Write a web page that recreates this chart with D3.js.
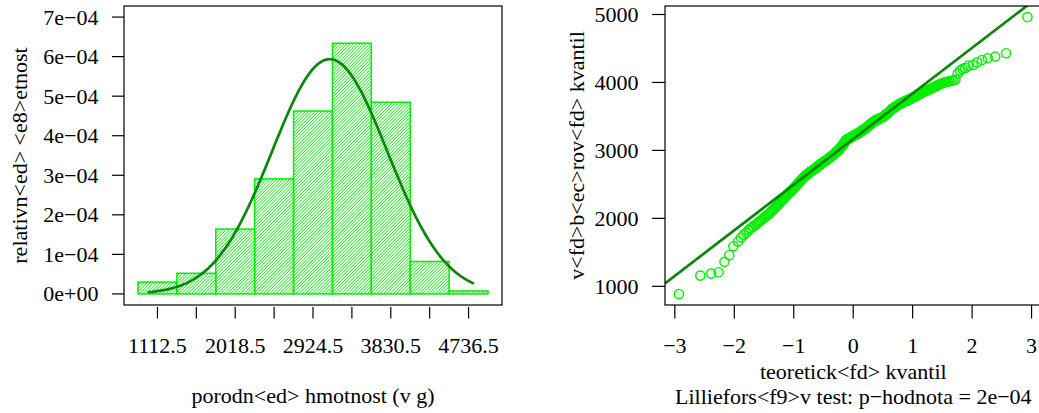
<!DOCTYPE html>
<html>
<head>
<meta charset="utf-8">
<script src="https://cdn.jsdelivr.net/npm/d3@7"></script>
<style>
  body { margin: 0; background: #fff; }
  text { font-family: "Liberation Serif", "DejaVu Serif", serif; font-size: 22px; fill: #000; }
</style>
</head>
<body>
<svg id="chart" width="1039" height="413"></svg>
<script>
// birth weights (g), sorted
const weights = [
  888, 1158, 1187, 1207,
  1360, 1458, 1590, 1660, 1719, 1758, 1790,
  1830, 1855, 1876, 1900, 1922, 1945, 1965, 1985, 2005, 2023, 2040,
  2057, 2073, 2092, 2111, 2130, 2150, 2167, 2185, 2202, 2220, 2236,
  2252, 2266, 2283, 2299, 2316, 2332, 2348, 2364, 2376, 2388,
  2400, 2412, 2423, 2435, 2448, 2462, 2475, 2489, 2502, 2515,
  2528, 2540, 2552, 2563, 2574, 2585, 2596, 2607, 2618, 2628,
  2636, 2645, 2653, 2661, 2669, 2676, 2683, 2689, 2694,
  2702, 2709, 2716, 2723, 2730, 2737, 2744, 2751, 2758, 2765,
  2772, 2779, 2786, 2792, 2798, 2804, 2810, 2816, 2822, 2828,
  2834, 2840, 2846, 2852, 2858, 2864, 2870, 2876, 2882, 2888,
  2894, 2900, 2906, 2912, 2918, 2924, 2931, 2938, 2945, 2952,
  2959, 2966, 2973, 2980, 2987, 2994, 3001, 3008, 3015, 3022,
  3032, 3042, 3052, 3062, 3072, 3082, 3092, 3102, 3112, 3122, 3134, 3146,
  3155, 3159, 3163, 3167, 3171, 3175, 3179, 3183, 3188, 3193, 3198, 3203, 3207, 3211,
  3215, 3219, 3223, 3227, 3231, 3235, 3239, 3243, 3247, 3251, 3255, 3260,
  3265, 3270, 3275, 3280, 3285, 3290, 3295, 3300, 3305, 3310, 3315, 3320,
  3326, 3332, 3338, 3344, 3350, 3357, 3364, 3371, 3378, 3385, 3391,
  3397, 3403, 3409, 3415, 3420, 3425, 3430, 3435, 3440, 3445, 3450,
  3453, 3456, 3460, 3464, 3468, 3472, 3476, 3480, 3484, 3487, 3490,
  3497, 3504, 3511, 3518, 3525, 3532, 3539, 3546, 3553, 3560,
  3568, 3577, 3586, 3596,
  3606, 3612, 3618, 3624, 3629,
  3636, 3643, 3650, 3657, 3664, 3671, 3678, 3684, 3689,
  3694, 3699, 3704, 3709, 3714, 3719, 3724, 3728, 3732,
  3737, 3742, 3748, 3754, 3760, 3765, 3770,
  3777, 3784, 3791, 3798, 3805, 3812, 3819,
  3827, 3835, 3843, 3851, 3859, 3867,
  3873, 3879, 3885, 3891, 3898,
  3907, 3916, 3925, 3934, 3943,
  3953, 3963, 3973, 3983,
  3992, 3999, 4006, 4012,
  4018, 4025, 4033, 4042,
  4130, 4174, 4199, 4213, 4247, 4257, 4297, 4331, 4356, 4380, 4430,
  4962
]

// histogram breaks and axis ticks
const breaks = [886, 1339, 1792, 2245, 2698, 3151, 3604, 4057, 4510, 4963]
const densTicks = [0, 1e-4, 2e-4, 3e-4, 4e-4, 5e-4, 6e-4, 7e-4]
const densTickLabels = ["0e+00", "1e\u221204", "2e\u221204", "3e\u221204", "4e\u221204", "5e\u221204", "6e\u221204", "7e\u221204"]
const curveRange = [1000, 4800]
const qqXTicks = [-3, -2, -1, 0, 1, 2, 3]
const qqYTicks = [1000, 2000, 3000, 4000, 5000]

const svg = d3.select("#chart")
const fmtMinus = s => String(s).replace("-", "\u2212")

// inverse normal cdf (Acklam)
function qnorm(p) {
    const a = [-3.969683028665376e+01, 2.209460984245205e+02, -2.759285104469687e+02, 1.383577518672690e+02, -3.066479806614716e+01, 2.506628277459239e+00]
    const b = [-5.447609879822406e+01, 1.615962687099119e+02, -1.556989798598866e+02, 6.680131188771972e+01, -1.328068155288572e+01]
    const c = [-7.784894002430293e-03, -3.223964580411365e-01, -2.400758277161838e+00, -2.549732539343734e+00, 4.374664141464968e+00, 2.938163982698783e+00]
    const d = [7.784695709041462e-03, 3.224671290700398e-01, 2.445134137142996e+00, 3.754408661907416e+00]
    const pl = 0.02425
    let q, r
    if (p < pl) {
        q = Math.sqrt(-2 * Math.log(p))
        return (((((c[0]*q+c[1])*q+c[2])*q+c[3])*q+c[4])*q+c[5]) / ((((d[0]*q+d[1])*q+d[2])*q+d[3])*q+1)
    }
    if (p > 1 - pl) {
        q = Math.sqrt(-2 * Math.log(1 - p))
        return -(((((c[0]*q+c[1])*q+c[2])*q+c[3])*q+c[4])*q+c[5]) / ((((d[0]*q+d[1])*q+d[2])*q+d[3])*q+1)
    }
    q = p - 0.5; r = q * q
    return (((((a[0]*r+a[1])*r+a[2])*r+a[3])*r+a[4])*r+a[5])*q / (((((b[0]*r+b[1])*r+b[2])*r+b[3])*r+b[4])*r+1)
}

// R style 4% axis extension
function ext(lo, hi) { let d = (hi - lo) * 0.04; return [lo - d, hi + d] }

const green = "#00ee00", dark = "#0a870a"
const n = weights.length

// ---------- left: histogram ----------
let hx = d3.scaleLinear().domain(ext(breaks[0], breaks[breaks.length - 1])).range([124, 502])
let hy = d3.scaleLinear().domain(ext(0, 7e-4)).range([305, 6])

let bins = d3.bin().domain([breaks[0], breaks[breaks.length - 1]]).thresholds(breaks.slice(1, -1))(weights)
let binW = breaks[1] - breaks[0]

let defs = svg.append("defs")
defs.append("pattern").attr("id", "hatch")
    .attr("patternUnits", "userSpaceOnUse").attr("width", 2.3).attr("height", 2.3)
    .attr("patternTransform", "rotate(45)")
    .append("line").attr("x1", 0).attr("y1", 0).attr("x2", 0).attr("y2", 2.3)
    .attr("stroke", green).attr("stroke-width", 1.4)

svg.append("g").selectAll("rect").data(bins).enter().append("rect")
    .attr("x", d => hx(d.x0))
    .attr("y", d => hy(d.length / (n * binW)))
    .attr("width", d => hx(d.x1) - hx(d.x0))
    .attr("height", d => hy(0) - hy(d.length / (n * binW)))
    .attr("fill", "url(#hatch)")
    .attr("stroke", green).attr("stroke-width", 1.5)

let mu = d3.mean(weights), sd = d3.deviation(weights)
let dnorm = x => Math.exp(-0.5 * ((x - mu) / sd) ** 2) / (sd * Math.sqrt(2 * Math.PI))
let curvePts = d3.range(0, 201).map(i => curveRange[0] + (curveRange[1] - curveRange[0]) * i / 200)
svg.append("path").datum(curvePts)
    .attr("d", d3.line().x(d => hx(d)).y(d => hy(dnorm(d))))
    .attr("fill", "none").attr("stroke", dark).attr("stroke-width", 2.7)

svg.append("rect").attr("x", 124).attr("y", 6).attr("width", 378).attr("height", 299)
    .attr("fill", "none").attr("stroke", "#000").attr("stroke-width", 1.2)

// y axis
let yAx = svg.append("g")
yAx.selectAll("line").data(densTicks).enter().append("line")
    .attr("x1", 112).attr("x2", 124).attr("y1", d => hy(d)).attr("y2", d => hy(d))
    .attr("stroke", "#000").attr("stroke-width", 1.2)
yAx.selectAll("text").data(densTicks).enter().append("text")
    .attr("x", 98.5).attr("y", d => hy(d) + 7.5).attr("text-anchor", "end")
    .text((d, i) => densTickLabels[i])

// x axis: ticks at bin mids, labels every second
let mids = bins.map(d => (d.x0 + d.x1) / 2)
let xAx = svg.append("g")
xAx.selectAll("line").data(mids).enter().append("line")
    .attr("x1", d => hx(d)).attr("x2", d => hx(d)).attr("y1", 307).attr("y2", 318.5)
    .attr("stroke", "#000").attr("stroke-width", 1.2)
xAx.selectAll("text").data(mids.filter((d, i) => i % 2 == 0)).enter().append("text")
    .attr("x", d => hx(d)).attr("y", 353).attr("text-anchor", "middle")
    .text(d => d.toFixed(1))

svg.append("text").attr("transform", "translate(26.5,155.5) rotate(-90)")
    .attr("text-anchor", "middle").text("relativn<ed> <e8>etnost")
svg.append("text").attr("x", 313).attr("y", 403).attr("text-anchor", "middle")
    .text("porodn<ed> hmotnost (v g)")

// ---------- right: QQ plot ----------
let theo = weights.map((d, i) => qnorm((i + 0.5) / n))
let qx = d3.scaleLinear().domain(ext(theo[0], theo[n - 1])).range([665, 1041.4])
let qy = d3.scaleLinear().domain(ext(weights[0], weights[n - 1])).range([305, 6])

svg.append("clipPath").attr("id", "qqclip").append("rect")
    .attr("x", 665).attr("y", 6).attr("width", 376.4).attr("height", 299)

let q1 = d3.quantile(weights, 0.25), q3 = d3.quantile(weights, 0.75)
let slope = (q3 - q1) / (qnorm(0.75) - qnorm(0.25))
let icpt = q1 - slope * qnorm(0.25)
let lx = qx.domain()

svg.append("g").selectAll("circle").data(weights).enter().append("circle")
    .attr("cx", (d, i) => qx(theo[i])).attr("cy", d => qy(d)).attr("r", 4.6)
    .attr("fill", "rgba(0,238,0,0.09)").attr("stroke", green).attr("stroke-width", 1.4)

svg.append("line").attr("clip-path", "url(#qqclip)")
    .attr("x1", qx(lx[0])).attr("y1", qy(icpt + slope * lx[0]))
    .attr("x2", qx(lx[1])).attr("y2", qy(icpt + slope * lx[1]))
    .attr("stroke", dark).attr("stroke-width", 2.7)

svg.append("rect").attr("x", 665).attr("y", 6).attr("width", 376.4).attr("height", 299)
    .attr("fill", "none").attr("stroke", "#000").attr("stroke-width", 1.2)

let qxAx = svg.append("g")
qxAx.selectAll("line").data(qqXTicks).enter().append("line")
    .attr("x1", d => qx(d)).attr("x2", d => qx(d)).attr("y1", 305).attr("y2", 318.5)
    .attr("stroke", "#000").attr("stroke-width", 1.2)
qxAx.selectAll("text").data(qqXTicks).enter().append("text")
    .attr("x", d => qx(d)).attr("y", 353).attr("text-anchor", "middle")
    .text(d => fmtMinus(d))

let qyAx = svg.append("g")
qyAx.selectAll("line").data(qqYTicks).enter().append("line")
    .attr("x1", 652).attr("x2", 665).attr("y1", d => qy(d)).attr("y2", d => qy(d))
    .attr("stroke", "#000").attr("stroke-width", 1.2)
qyAx.selectAll("text").data(qqYTicks).enter().append("text")
    .attr("x", 638.5).attr("y", d => qy(d) + 7.5).attr("text-anchor", "end")
    .text(d => d)

svg.append("text").attr("transform", "translate(584,155.5) rotate(-90)")
    .attr("text-anchor", "middle").text("v<fd>b<ec>rov<fd> kvantil")
svg.append("text").attr("x", 853.3).attr("y", 378.5).attr("text-anchor", "middle")
    .text("teoretick<fd> kvantil")
svg.append("text").attr("x", 853.3).attr("y", 404).attr("text-anchor", "middle")
    .text("Lilliefors<f9>v test: p\u2212hodnota = 2e\u221204")
</script>
</body>
</html>
